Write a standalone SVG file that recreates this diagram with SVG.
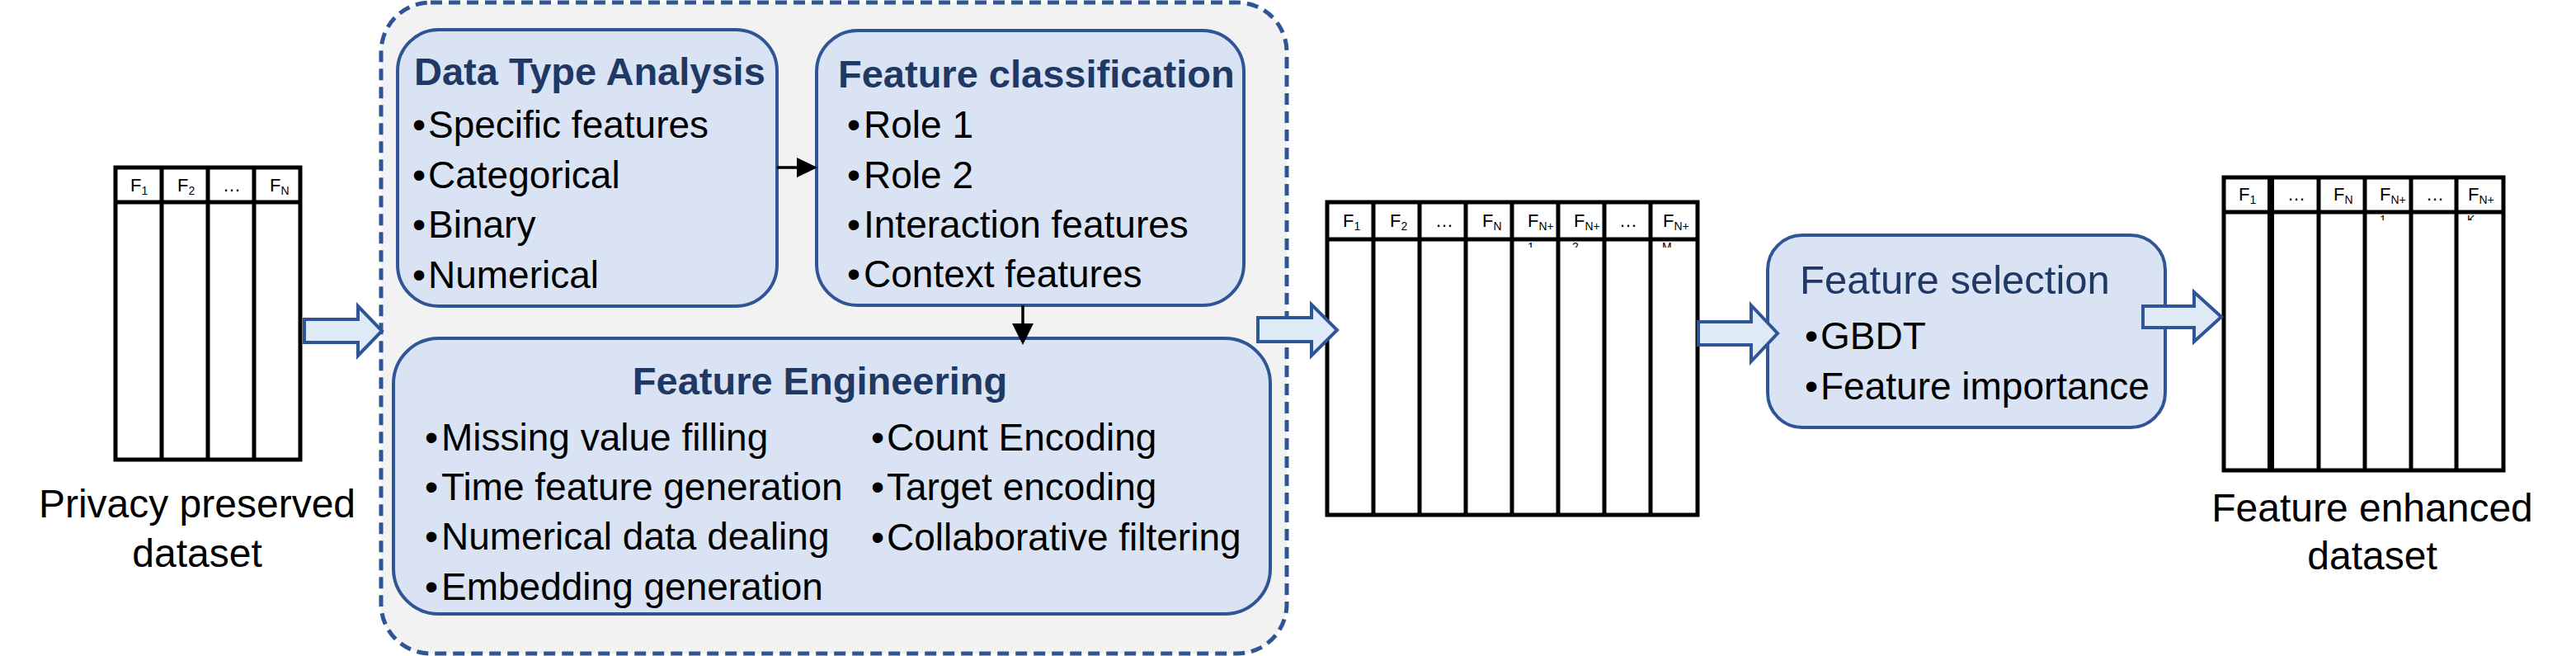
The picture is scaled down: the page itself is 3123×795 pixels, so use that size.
<svg xmlns="http://www.w3.org/2000/svg" width="3123" height="795" viewBox="0 0 3123 795">
<style>
.bg{fill:#ffffff}
.cont{fill:#F2F2F2;stroke:#2F5597;stroke-width:5;stroke-dasharray:14 8}
.box{fill:#DAE3F3;stroke:#2F5597;stroke-width:4}
.title{font-family:"Liberation Sans",Arial,sans-serif;font-weight:bold;font-size:47px;fill:#1F3864}
.title2{font-family:"Liberation Sans",Arial,sans-serif;font-size:49px;fill:#1F3864}
.body{font-family:"Liberation Sans",Arial,sans-serif;font-size:46px;fill:#000}
.cap{font-family:"Liberation Sans",Arial,sans-serif;font-size:48px;fill:#000;text-anchor:middle}
.tbl{fill:#fff;stroke:#000;stroke-width:5}
.tl{stroke:#000;stroke-width:5}
.hdr{font-family:"Liberation Sans",Arial,sans-serif;font-size:22px;fill:#000}
.sub{font-size:14px}
.ov{font-family:"Liberation Sans",Arial,sans-serif;font-size:14px;fill:#000}
.blk{fill:#DEEBF7;stroke:#2F5597;stroke-width:4;stroke-linejoin:miter}
.ln{stroke:#000;stroke-width:3.5;fill:none}
.ah{fill:#000}
</style>
<defs>
<clipPath id="c2"><rect x="1600" y="293" width="470" height="7"/></clipPath>
<clipPath id="c3"><rect x="2690" y="260" width="350" height="7"/></clipPath>
</defs>
<rect class="bg" x="0" y="0" width="3123" height="795"/>

<g id="input-dataset">
<rect class="tbl" x="140" y="203" width="224" height="354"/>
<line class="tl" x1="140" y1="245" x2="364" y2="245"/>
<line class="tl" x1="196" y1="203" x2="196" y2="557"/>
<line class="tl" x1="252" y1="203" x2="252" y2="557"/>
<line class="tl" x1="308" y1="203" x2="308" y2="557"/>
<text class="hdr" x="158" y="232">F<tspan class="sub" dy="4">1</tspan></text>
<text class="hdr" x="215" y="232">F<tspan class="sub" dy="4">2</tspan></text>
<text class="hdr" x="270" y="232">…</text>
<text class="hdr" x="327" y="232">F<tspan class="sub" dy="4">N</tspan></text>
<text class="cap" x="239" y="627">Privacy preserved</text>
<text class="cap" x="239" y="687">dataset</text>
</g>

<g id="processing-container">
<rect class="cont" x="462" y="3" width="1098" height="789" rx="60" ry="60"/>
</g>

<g id="data-type-analysis">
<rect class="box" x="482" y="36" width="460" height="335" rx="50" ry="50"/>
<text class="title" x="502" y="103">Data Type Analysis</text>
<text class="body"><tspan x="500" y="167">•</tspan><tspan x="519" y="167">Specific features</tspan></text>
<text class="body"><tspan x="500" y="228">•</tspan><tspan x="519" y="228">Categorical</tspan></text>
<text class="body"><tspan x="500" y="288">•</tspan><tspan x="519" y="288">Binary</tspan></text>
<text class="body"><tspan x="500" y="349">•</tspan><tspan x="519" y="349">Numerical</tspan></text>
</g>

<g id="feature-classification">
<rect class="box" x="990" y="37" width="518" height="333" rx="50" ry="50"/>
<text class="title" x="1016" y="106">Feature classification</text>
<text class="body"><tspan x="1027" y="167">•</tspan><tspan x="1047" y="167">Role 1</tspan></text>
<text class="body"><tspan x="1027" y="228">•</tspan><tspan x="1047" y="228">Role 2</tspan></text>
<text class="body"><tspan x="1027" y="288">•</tspan><tspan x="1047" y="288">Interaction features</tspan></text>
<text class="body"><tspan x="1027" y="348">•</tspan><tspan x="1047" y="348">Context features</tspan></text>
</g>

<g id="feature-engineering">
<rect class="box" x="477" y="410" width="1063" height="334" rx="55" ry="55"/>
<text class="title" x="994" y="478" text-anchor="middle">Feature Engineering</text>
<text class="body"><tspan x="515" y="546">•</tspan><tspan x="535" y="546">Missing value filling</tspan></text>
<text class="body"><tspan x="515" y="606">•</tspan><tspan x="535" y="606">Time feature generation</tspan></text>
<text class="body"><tspan x="515" y="666">•</tspan><tspan x="535" y="666">Numerical data dealing</tspan></text>
<text class="body"><tspan x="515" y="727">•</tspan><tspan x="535" y="727">Embedding generation</tspan></text>
<text class="body"><tspan x="1056" y="546">•</tspan><tspan x="1075" y="546">Count Encoding</tspan></text>
<text class="body"><tspan x="1056" y="606">•</tspan><tspan x="1075" y="606">Target encoding</tspan></text>
<text class="body"><tspan x="1056" y="667">•</tspan><tspan x="1075" y="667">Collaborative filtering</tspan></text>
</g>

<g id="intermediate-dataset">
<rect class="tbl" x="1609" y="245" width="449" height="379"/>
<line class="tl" x1="1609" y1="290" x2="2058" y2="290"/>
<line class="tl" x1="1665" y1="245" x2="1665" y2="624"/>
<line class="tl" x1="1721" y1="245" x2="1721" y2="624"/>
<line class="tl" x1="1777" y1="245" x2="1777" y2="624"/>
<line class="tl" x1="1833" y1="245" x2="1833" y2="624"/>
<line class="tl" x1="1889" y1="245" x2="1889" y2="624"/>
<line class="tl" x1="1945" y1="245" x2="1945" y2="624"/>
<line class="tl" x1="2001" y1="245" x2="2001" y2="624"/>
<text class="hdr" x="1628" y="275">F<tspan class="sub" dy="4">1</tspan></text>
<text class="hdr" x="1685" y="275">F<tspan class="sub" dy="4">2</tspan></text>
<text class="hdr" x="1740" y="275">…</text>
<text class="hdr" x="1797" y="275">F<tspan class="sub" dy="4">N</tspan></text>
<text class="hdr" x="1852" y="275">F<tspan class="sub" dy="4">N+</tspan></text>
<text class="hdr" x="1908" y="275">F<tspan class="sub" dy="4">N+</tspan></text>
<text class="hdr" x="1963" y="275">…</text>
<text class="hdr" x="2016" y="275">F<tspan class="sub" dy="4">N+</tspan></text>
<g clip-path="url(#c2)">
<text class="ov" x="1852" y="304">1</text>
<text class="ov" x="1906" y="304">2</text>
<text class="ov" x="2015" y="304">M</text>
</g>
</g>

<g id="feature-selection">
<rect class="box" x="2143" y="285" width="482" height="233" rx="42" ry="42"/>
<text class="title2" x="2182" y="356">Feature selection</text>
<text class="body"><tspan x="2188" y="423">•</tspan><tspan x="2207" y="423">GBDT</tspan></text>
<text class="body"><tspan x="2188" y="484">•</tspan><tspan x="2207" y="484">Feature importance</tspan></text>
</g>

<g id="enhanced-dataset">
<rect class="tbl" x="2696" y="215" width="339" height="355"/>
<line class="tl" x1="2696" y1="257" x2="3035" y2="257"/>
<line class="tl" x1="2753" y1="215" x2="2753" y2="570" style="stroke-width:8"/>
<line class="tl" x1="2811" y1="215" x2="2811" y2="570"/>
<line class="tl" x1="2867" y1="215" x2="2867" y2="570"/>
<line class="tl" x1="2923" y1="215" x2="2923" y2="570"/>
<line class="tl" x1="2978" y1="215" x2="2978" y2="570"/>
<text class="hdr" x="2714" y="243">F<tspan class="sub" dy="4">1</tspan></text>
<text class="hdr" x="2773" y="243">…</text>
<text class="hdr" x="2829" y="243">F<tspan class="sub" dy="4">N</tspan></text>
<text class="hdr" x="2885" y="243">F<tspan class="sub" dy="4">N+</tspan></text>
<text class="hdr" x="2941" y="243">…</text>
<text class="hdr" x="2992" y="243">F<tspan class="sub" dy="4">N+</tspan></text>
<g clip-path="url(#c3)">
<text class="ov" x="2885" y="271">1</text>
<text class="ov" x="2991" y="271">K</text>
</g>
<text class="cap" x="2876" y="632">Feature enhanced</text>
<text class="cap" x="2876" y="690">dataset</text>
</g>

<g id="connectors">
<line class="ln" x1="942" y1="203" x2="968" y2="203"/>
<polygon class="ah" points="966,191 991,203 966,215"/>
<line class="ln" x1="1240" y1="370" x2="1240" y2="394"/>
<polygon class="ah" points="1227,392 1253,392 1240,418"/>
<path class="blk" d="M369,387 H434 V371 L463,401 L434,431 V415 H369 Z"/>
<path class="blk" d="M1525,385 H1590 V369 L1621,400 L1590,431 V414 H1525 Z"/>
<path class="blk" d="M2059,390 H2123 V370 L2155,404 L2123,438 V418 H2059 Z"/>
<path class="blk" d="M2598,371 H2660 V354 L2693,384 L2660,414 V397 H2598 Z"/>
</g>
</svg>
